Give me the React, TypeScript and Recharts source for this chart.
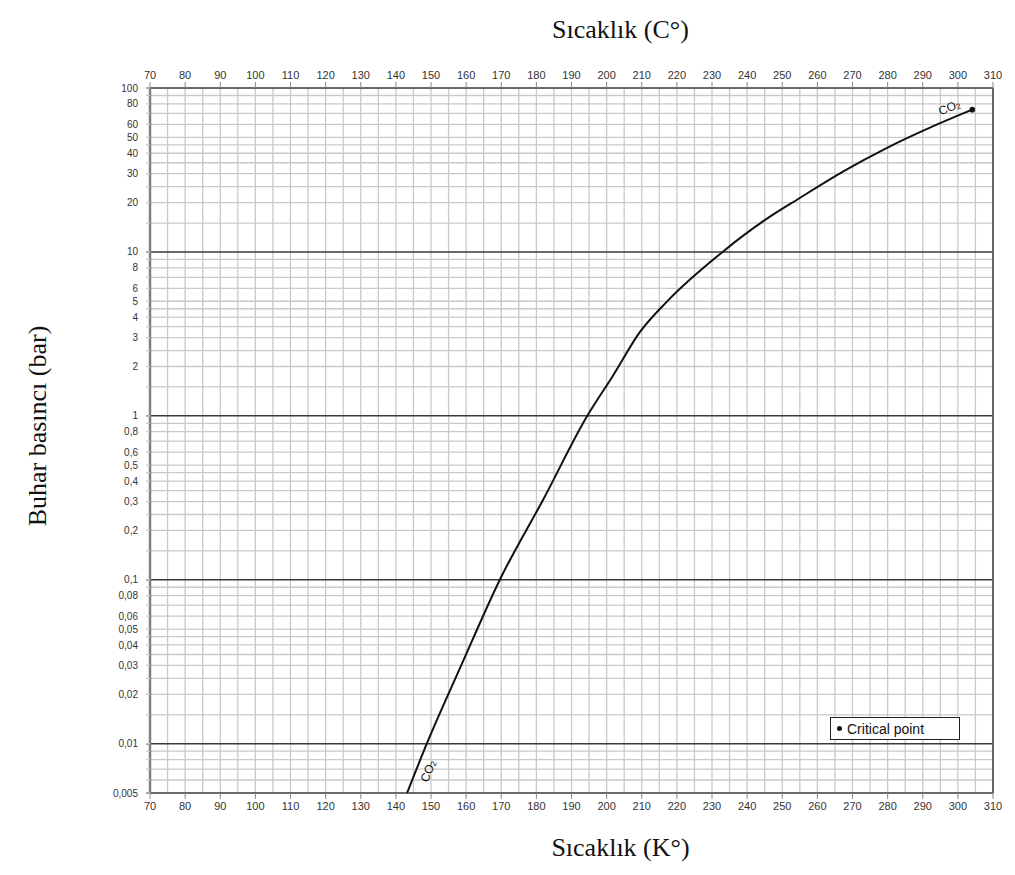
import React from 'react';
import { ComposedChart, Line, XAxis, YAxis, ReferenceLine, ReferenceDot } from 'recharts';

// Temperature axis (labelled every 10, grid every 5)
const kelvinTicks = [70, 80, 90, 100, 110, 120, 130, 140, 150, 160, 170, 180, 190, 200, 210, 220, 230, 240, 250, 260, 270, 280, 290, 300, 310];
const kelvinGrid = [75, 80, 85, 90, 95, 100, 105, 110, 115, 120, 125, 130, 135, 140, 145, 150, 155, 160, 165, 170, 175, 180, 185, 190, 195, 200, 205, 210, 215, 220, 225, 230, 235, 240, 245, 250, 255, 260, 265, 270, 275, 280, 285, 290, 295, 300, 305];

// Pressure axis: every grid line carries a tick, only some are labelled
const pressureGrid = [
  0.005, 0.006, 0.007, 0.008, 0.009,
  0.01, 0.015, 0.02, 0.025, 0.03, 0.035, 0.04, 0.045, 0.05, 0.06, 0.07, 0.08, 0.09,
  0.1, 0.15, 0.2, 0.25, 0.3, 0.35, 0.4, 0.45, 0.5, 0.6, 0.7, 0.8, 0.9,
  1, 1.5, 2, 2.5, 3, 3.5, 4, 4.5, 5, 6, 7, 8, 9,
  10, 15, 20, 25, 30, 35, 40, 45, 50, 60, 70, 80, 90, 100,
];
const pressureLabels = [0.005, 0.01, 0.02, 0.03, 0.04, 0.05, 0.06, 0.08, 0.1, 0.2, 0.3, 0.4, 0.5, 0.6, 0.8, 1, 2, 3, 4, 5, 6, 8, 10, 20, 30, 40, 50, 60, 80, 100];
const decadeLines = [0.005, 0.01, 0.1, 1, 10, 100];

// CO2 vapour-pressure curve, ending at the critical point
const co2Temperature = [143.2, 148.8, 158.6, 169.6, 182.0, 194.5, 201.9, 209.5, 217.1, 233.0, 244.6, 255.1, 267.4, 279.7, 293.0, 304.1];
const co2Pressure = [0.005, 0.01, 0.03, 0.1, 0.31, 1.0, 1.77, 3.25, 4.96, 10, 15.4, 21.4, 31.0, 43.0, 58.5, 73.8];

// Critical point of CO2
const criticalTemperature = 304.1;
const criticalPressure = 73.8;

const curve = co2Temperature.map((k, i) => ({ k, p: co2Pressure[i] }));

const fmtPressure = (v: number) =>
  pressureLabels.includes(v) ? String(v).replace('.', ',') : '';

const tickFont = { fontFamily: 'Liberation Sans, Arial, sans-serif', fontSize: 11, fill: '#333' };

const co2Label = (angle: number) => (props: any) => {
  const vb = props.viewBox || {};
  const cx = (vb.x ?? 0) + (vb.width ?? 0) / 2;
  const cy = (vb.y ?? 0) + (vb.height ?? 0) / 2;
  return (
    <text
      x={cx}
      y={cy}
      transform={`rotate(${angle} ${cx} ${cy})`}
      textAnchor="middle"
      dominantBaseline="central"
      fontFamily="Liberation Sans, Arial, sans-serif"
      fontSize={12}
      fill="#111"
    >
      CO<tspan fontSize={8} dy={2}>2</tspan>
    </text>
  );
};

const serif = 'Liberation Serif, "Times New Roman", serif';
const gridGray = '#c9c9c9';

export default function App() {
  return (
    <div style={{ position: 'relative', width: 1000, height: 860 }}>
      <ComposedChart
        width={1000}
        height={860}
        data={curve}
        margin={{ top: 50, right: 15, bottom: 45, left: 82 }}
      >
        <XAxis
          xAxisId="bottom"
          dataKey="k"
          type="number"
          domain={[70, 310]}
          ticks={kelvinTicks}
          allowDataOverflow
          height={30}
          tick={tickFont}
          tickSize={6}
          tickMargin={3}
          tickLine={{ stroke: '#888' }}
          axisLine={false}
        />
        <XAxis
          xAxisId="top"
          dataKey="k"
          orientation="top"
          type="number"
          domain={[70, 310]}
          ticks={kelvinTicks}
          allowDataOverflow
          height={30}
          tick={tickFont}
          tickSize={6}
          tickMargin={3}
          tickLine={{ stroke: '#888' }}
          axisLine={false}
        />
        <YAxis
          type="number"
          scale="log"
          domain={[0.005, 100]}
          ticks={pressureGrid}
          interval={0}
          allowDataOverflow
          width={60}
          tick={{ ...tickFont, fontSize: 10 }}
          tickSize={4}
          tickMargin={8}
          tickLine={{ stroke: gridGray, strokeWidth: 1.3 }}
          tickFormatter={fmtPressure}
          axisLine={false}
        />

        {pressureGrid.filter((v) => !decadeLines.includes(v)).map((v) => (
          <ReferenceLine key={`h${v}`} xAxisId="bottom" y={v} stroke={gridGray} strokeWidth={1.3} />
        ))}
        {kelvinGrid.map((v) => (
          <ReferenceLine key={`v${v}`} xAxisId="top" x={v} stroke={gridGray} strokeWidth={1.3} />
        ))}
        {decadeLines.map((v) => (
          <ReferenceLine
            key={`d${v}`}
            xAxisId="bottom"
            ifOverflow="visible"
            segment={[{ x: 68.9, y: v }, { x: 310, y: v }]}
            stroke="#3a3a3a"
            strokeWidth={1.5}
          />
        ))}
        <ReferenceLine xAxisId="bottom" x={70} stroke="#808080" strokeWidth={2.5} />
        <ReferenceLine xAxisId="bottom" x={310} stroke="#666" strokeWidth={2} />

        <Line
          xAxisId="bottom"
          dataKey="p"
          type="monotone"
          stroke="#111"
          strokeWidth={2}
          dot={false}
          activeDot={false}
          isAnimationActive={false}
        />
        <ReferenceDot
          xAxisId="bottom"
          x={criticalTemperature}
          y={criticalPressure}
          r={2.8}
          fill="#111"
          stroke="none"
        />
        <ReferenceDot xAxisId="bottom" x={297.6} y={76} r={0} label={co2Label(-22)} />
        <ReferenceDot xAxisId="bottom" x={149.2} y={0.0068} r={0} label={co2Label(-68)} />
      </ComposedChart>

      <div
        style={{
          position: 'absolute', left: 0, width: 1000, top: 6, textAlign: 'center',
          paddingLeft: 225, boxSizing: 'border-box', lineHeight: '32px',
          fontFamily: serif, fontSize: 26, color: '#111',
        }}
      >
        Sıcaklık (C°)
      </div>
      <div
        style={{
          position: 'absolute', left: 0, width: 1000, top: 824, textAlign: 'center',
          paddingLeft: 225, boxSizing: 'border-box', lineHeight: '32px',
          fontFamily: serif, fontSize: 26, color: '#111',
        }}
      >
        Sıcaklık (K°)
      </div>
      <div
        style={{
          position: 'absolute', left: 30, top: 418, width: 0, height: 0,
        }}
      >
        <div
          style={{
            position: 'absolute', left: 0, top: 0, whiteSpace: 'nowrap',
            transform: 'translate(-50%, -50%) rotate(-90deg)',
            fontFamily: serif, fontSize: 26, color: '#111',
          }}
        >
          Buhar basıncı (bar)
        </div>
      </div>

      <div
        style={{
          position: 'absolute', left: 822, top: 709, width: 122, height: 21,
          border: '1.5px solid #222', background: '#fff',
          fontFamily: 'Liberation Sans, Arial, sans-serif', fontSize: 14, color: '#111',
          display: 'flex', alignItems: 'center', paddingLeft: 6,
        }}
      >
        <span style={{ display: 'inline-block', width: 5, height: 5, borderRadius: 3, background: '#111', marginRight: 5 }} />
        Critical point
      </div>
    </div>
  );
}
